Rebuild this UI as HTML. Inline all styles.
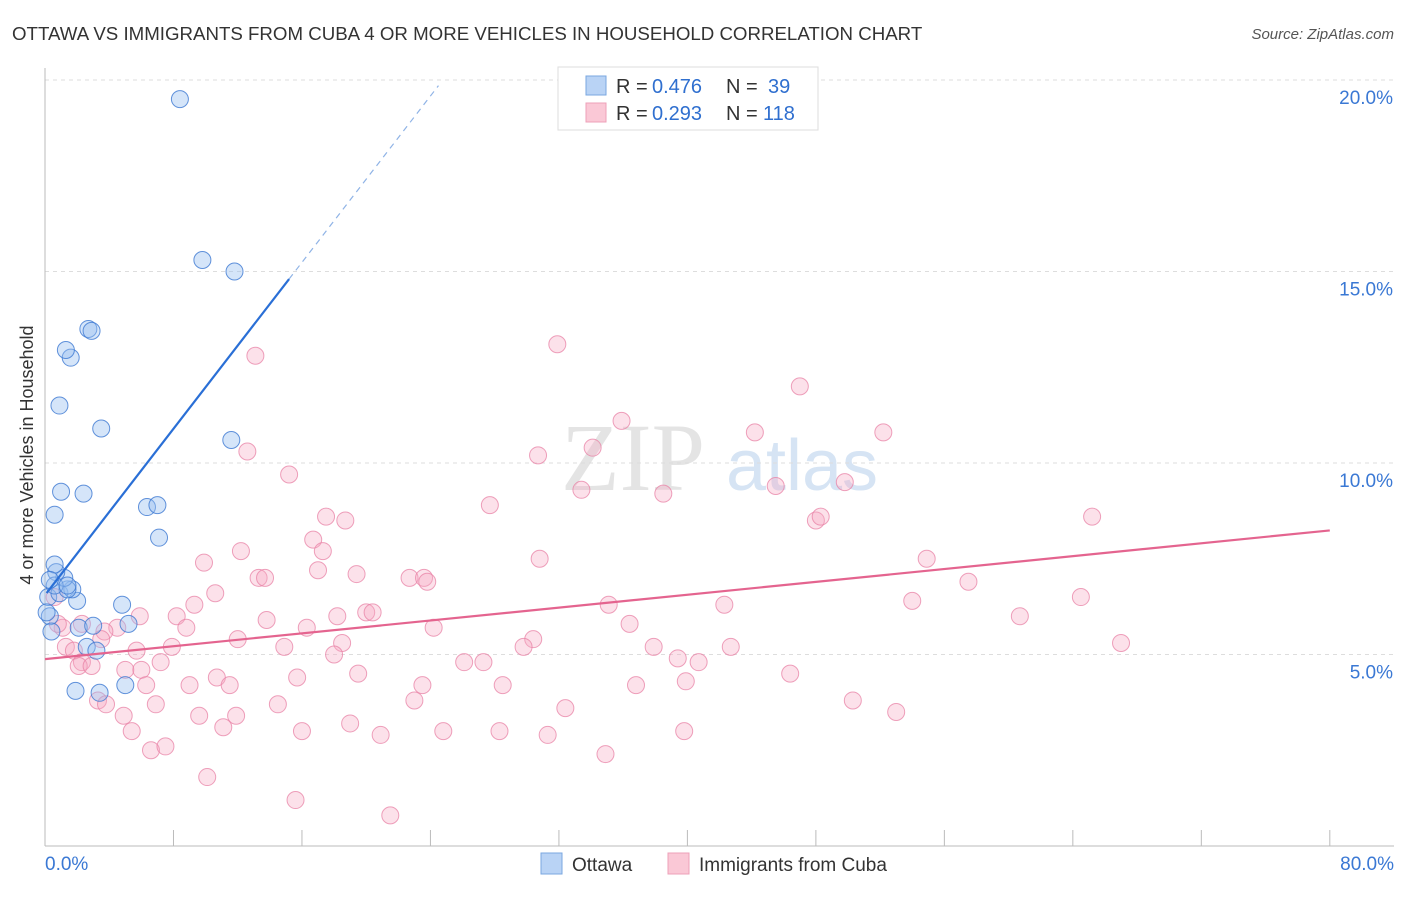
<!DOCTYPE html>
<html><head><meta charset="utf-8"><style>
body{margin:0;background:#fff;font-family:"Liberation Sans",sans-serif;}
</style></head><body>
<svg width="1406" height="892" xmlns="http://www.w3.org/2000/svg" id="c">
<text x="12" y="40" font-size="18.7" fill="#333">OTTAWA VS IMMIGRANTS FROM CUBA 4 OR MORE VEHICLES IN HOUSEHOLD CORRELATION CHART</text>
<text x="1394" y="39" font-size="15" fill="#555" font-style="italic" text-anchor="end">Source: ZipAtlas.com</text>
<text x="633" y="490" font-size="96" fill="#e4e4e4" font-family="Liberation Serif" text-anchor="middle">ZIP</text>
<text x="802" y="490" font-size="72" fill="#d6e4f4" text-anchor="middle">atlas</text>
<text x="33" y="455" font-size="18" fill="#333" text-anchor="middle" transform="rotate(-90 33 455)">4 or more Vehicles in Household</text>
<g id="grid"></g><g id="pts"></g><g id="lines"></g>
<g>
<rect x="558" y="67" width="260" height="63" fill="#fff" stroke="#ddd"/>
<rect x="586" y="76" width="20" height="19" fill="#b9d3f5" stroke="#7aa7e0"/>
<rect x="586" y="103" width="20" height="19" fill="#fac8d6" stroke="#eea0b8"/>
<text x="616" y="93" font-size="20" fill="#333">R =</text>
<text x="652" y="93" font-size="20" fill="#2f6fcf">0.476</text>
<text x="726" y="93" font-size="20" fill="#333">N =</text>
<text x="768" y="93" font-size="20" fill="#2f6fcf">39</text>
<text x="616" y="120" font-size="20" fill="#333">R =</text>
<text x="652" y="120" font-size="20" fill="#2f6fcf">0.293</text>
<text x="726" y="120" font-size="20" fill="#333">N =</text>
<text x="763" y="120" font-size="20" fill="#2f6fcf">118</text>
</g>
<g>
<rect x="541" y="853" width="21" height="21" fill="#b9d3f5" stroke="#7aa7e0"/>
<text x="572" y="871" font-size="19" fill="#333">Ottawa</text>
<rect x="668" y="853" width="21" height="21" fill="#fac8d6" stroke="#eea0b8"/>
<text x="699" y="871" font-size="19" fill="#333">Immigrants from Cuba</text>
</g>
</svg>
<script>
const yTicks=[5,10,15,20];
const yTickLabels=["5.0%","10.0%","15.0%","20.0%"];
const xTickLabels=["0.0%","80.0%"];
const blueX=[1.9,3.4,5.0,2.6,3.2,2.1,3.0,4.8,5.2,0.3,2.0,0.2,0.9,1.7,1.4,1.2,0.7,0.6,7.1,6.35,7.0,0.6,2.4,1.0,11.6,3.5,0.9,1.6,1.3,2.7,2.9,11.8,9.8,8.4,0.6,0.3,1.4,0.4,0.1];
const blueY=[4.05,4.0,4.2,5.2,5.1,5.7,5.75,6.3,5.8,6.0,6.4,6.5,6.6,6.7,6.7,7.0,7.15,7.35,8.05,8.85,8.9,8.65,9.2,9.25,10.6,10.9,11.5,12.75,12.95,13.5,13.45,15.0,15.3,19.5,6.8,6.95,6.8,5.6,6.1];
const pinkX=[13.1,31.9,47.0,35.9,44.2,52.2,12.6,30.7,34.1,15.2,33.4,38.5,45.5,49.8,27.7,17.5,18.7,48.0,48.3,65.2,16.7,17.3,12.2,9.9,30.8,54.9,17.0,13.3,13.7,19.4,22.7,23.6,23.8,57.5,10.6,9.3,35.1,42.3,54.0,64.5,8.2,20.0,20.4,18.2,13.8,60.7,8.8,16.3,24.2,36.4,5.9,4.5,3.7,3.5,12.0,30.4,7.9,14.9,18.5,29.8,37.9,42.7,67.0,1.3,1.8,5.7,2.3,2.1,2.9,7.2,18.0,26.1,27.3,39.4,40.7,5.0,6.0,19.5,10.7,15.7,9.0,11.5,6.3,23.5,28.5,36.8,39.9,46.4,3.3,3.8,6.9,14.5,23.0,50.3,9.6,4.9,11.9,32.4,53.0,11.1,19.0,28.3,39.8,5.4,16.0,20.9,24.8,31.3,6.6,7.5,34.9,10.1,15.6,21.5,0.6,1.1,2.3,0.8];
const pinkY=[12.8,13.1,12.0,11.1,10.8,10.8,10.3,10.2,10.4,9.7,9.3,9.2,9.4,9.5,8.9,8.6,8.5,8.5,8.6,8.6,8.0,7.7,7.7,7.4,7.5,7.5,7.2,7.0,7.0,7.1,7.0,7.0,6.9,6.9,6.6,6.3,6.3,6.3,6.4,6.5,6.0,6.1,6.1,6.0,5.9,6.0,5.7,5.7,5.7,5.8,6.0,5.7,5.6,5.4,5.4,5.4,5.2,5.2,5.3,5.2,5.2,5.2,5.3,5.2,5.1,5.1,4.8,4.7,4.7,4.8,5.0,4.8,4.8,4.9,4.8,4.6,4.6,4.5,4.4,4.4,4.2,4.2,4.2,4.2,4.2,4.2,4.3,4.5,3.8,3.7,3.7,3.7,3.8,3.8,3.4,3.4,3.4,3.6,3.5,3.1,3.2,3.0,3.0,3.0,3.0,2.9,3.0,2.9,2.5,2.6,2.4,1.8,1.2,0.8,6.5,5.7,5.8,5.8];
const ns="http://www.w3.org/2000/svg";
const X=v=>45+v*16.06, Y=v=>846-v*38.3;
function mk(tag,at,par){const e=document.createElementNS(ns,tag);for(const k in at)e.setAttribute(k,at[k]);document.getElementById(par).appendChild(e);return e;}
yTicks.forEach((t,i)=>{
 const g=mk('line',{x1:45,x2:1394,y1:Y(t),y2:Y(t),stroke:'#ddd','stroke-dasharray':'4,4'},'grid');
 
 
 const l=mk('text',{x:1393,y:Y(t)+24,'font-size':19,fill:'#3a78d4','text-anchor':'end'},'grid');l.textContent=yTickLabels[i];
 
 
});
const ax=mk('line',{x1:45,x2:45,y1:68,y2:846,stroke:'#bbb'},'grid');


const bx=mk('line',{x1:45,x2:1394,y1:846,y2:846,stroke:'#bbb'},'grid');


for(let i=0;i<=10;i++){const t=mk('line',{x1:X(i*8),x2:X(i*8),y1:830,y2:846,stroke:'#bbb'},'grid');
 
 }
[[0,'start',45],[80,'end',1394]].forEach((d,i)=>{const l=mk('text',{x:d[2],y:870,'font-size':19,fill:'#3a78d4','text-anchor':d[1]},'grid');l.textContent=xTickLabels[i];
 
 });
pinkX.forEach((x,i)=>{const c=mk('circle',{cx:X(x),cy:Y(pinkY[i]),r:8.5,fill:'rgba(246,170,195,0.35)',stroke:'rgba(232,130,165,0.75)','stroke-width':1},'pts');
 
 });
blueX.forEach((x,i)=>{const c=mk('circle',{cx:X(x),cy:Y(blueY[i]),r:8.5,fill:'rgba(150,190,240,0.4)',stroke:'rgba(60,120,210,0.8)','stroke-width':1},'pts');
 
 });
const bs=0.543,bi=6.55,ps=0.042,pi=4.88;
let l1=mk('line',{x1:X(0.1),y1:Y(bi+bs*0.1),x2:X(15.2),y2:Y(bi+bs*15.2),stroke:'#2a6fd6','stroke-width':2.2},'lines');


let l2=mk('line',{x1:X(15.2),y1:Y(bi+bs*15.2),x2:X(24.5),y2:Y(bi+bs*24.5),stroke:'#8fb3e6','stroke-width':1.2,'stroke-dasharray':'6,5'},'lines');


let l3=mk('line',{x1:X(0),y1:Y(pi),x2:X(80),y2:Y(pi+ps*80),stroke:'#e4648f','stroke-width':2.2},'lines');


</script>
</body></html>
